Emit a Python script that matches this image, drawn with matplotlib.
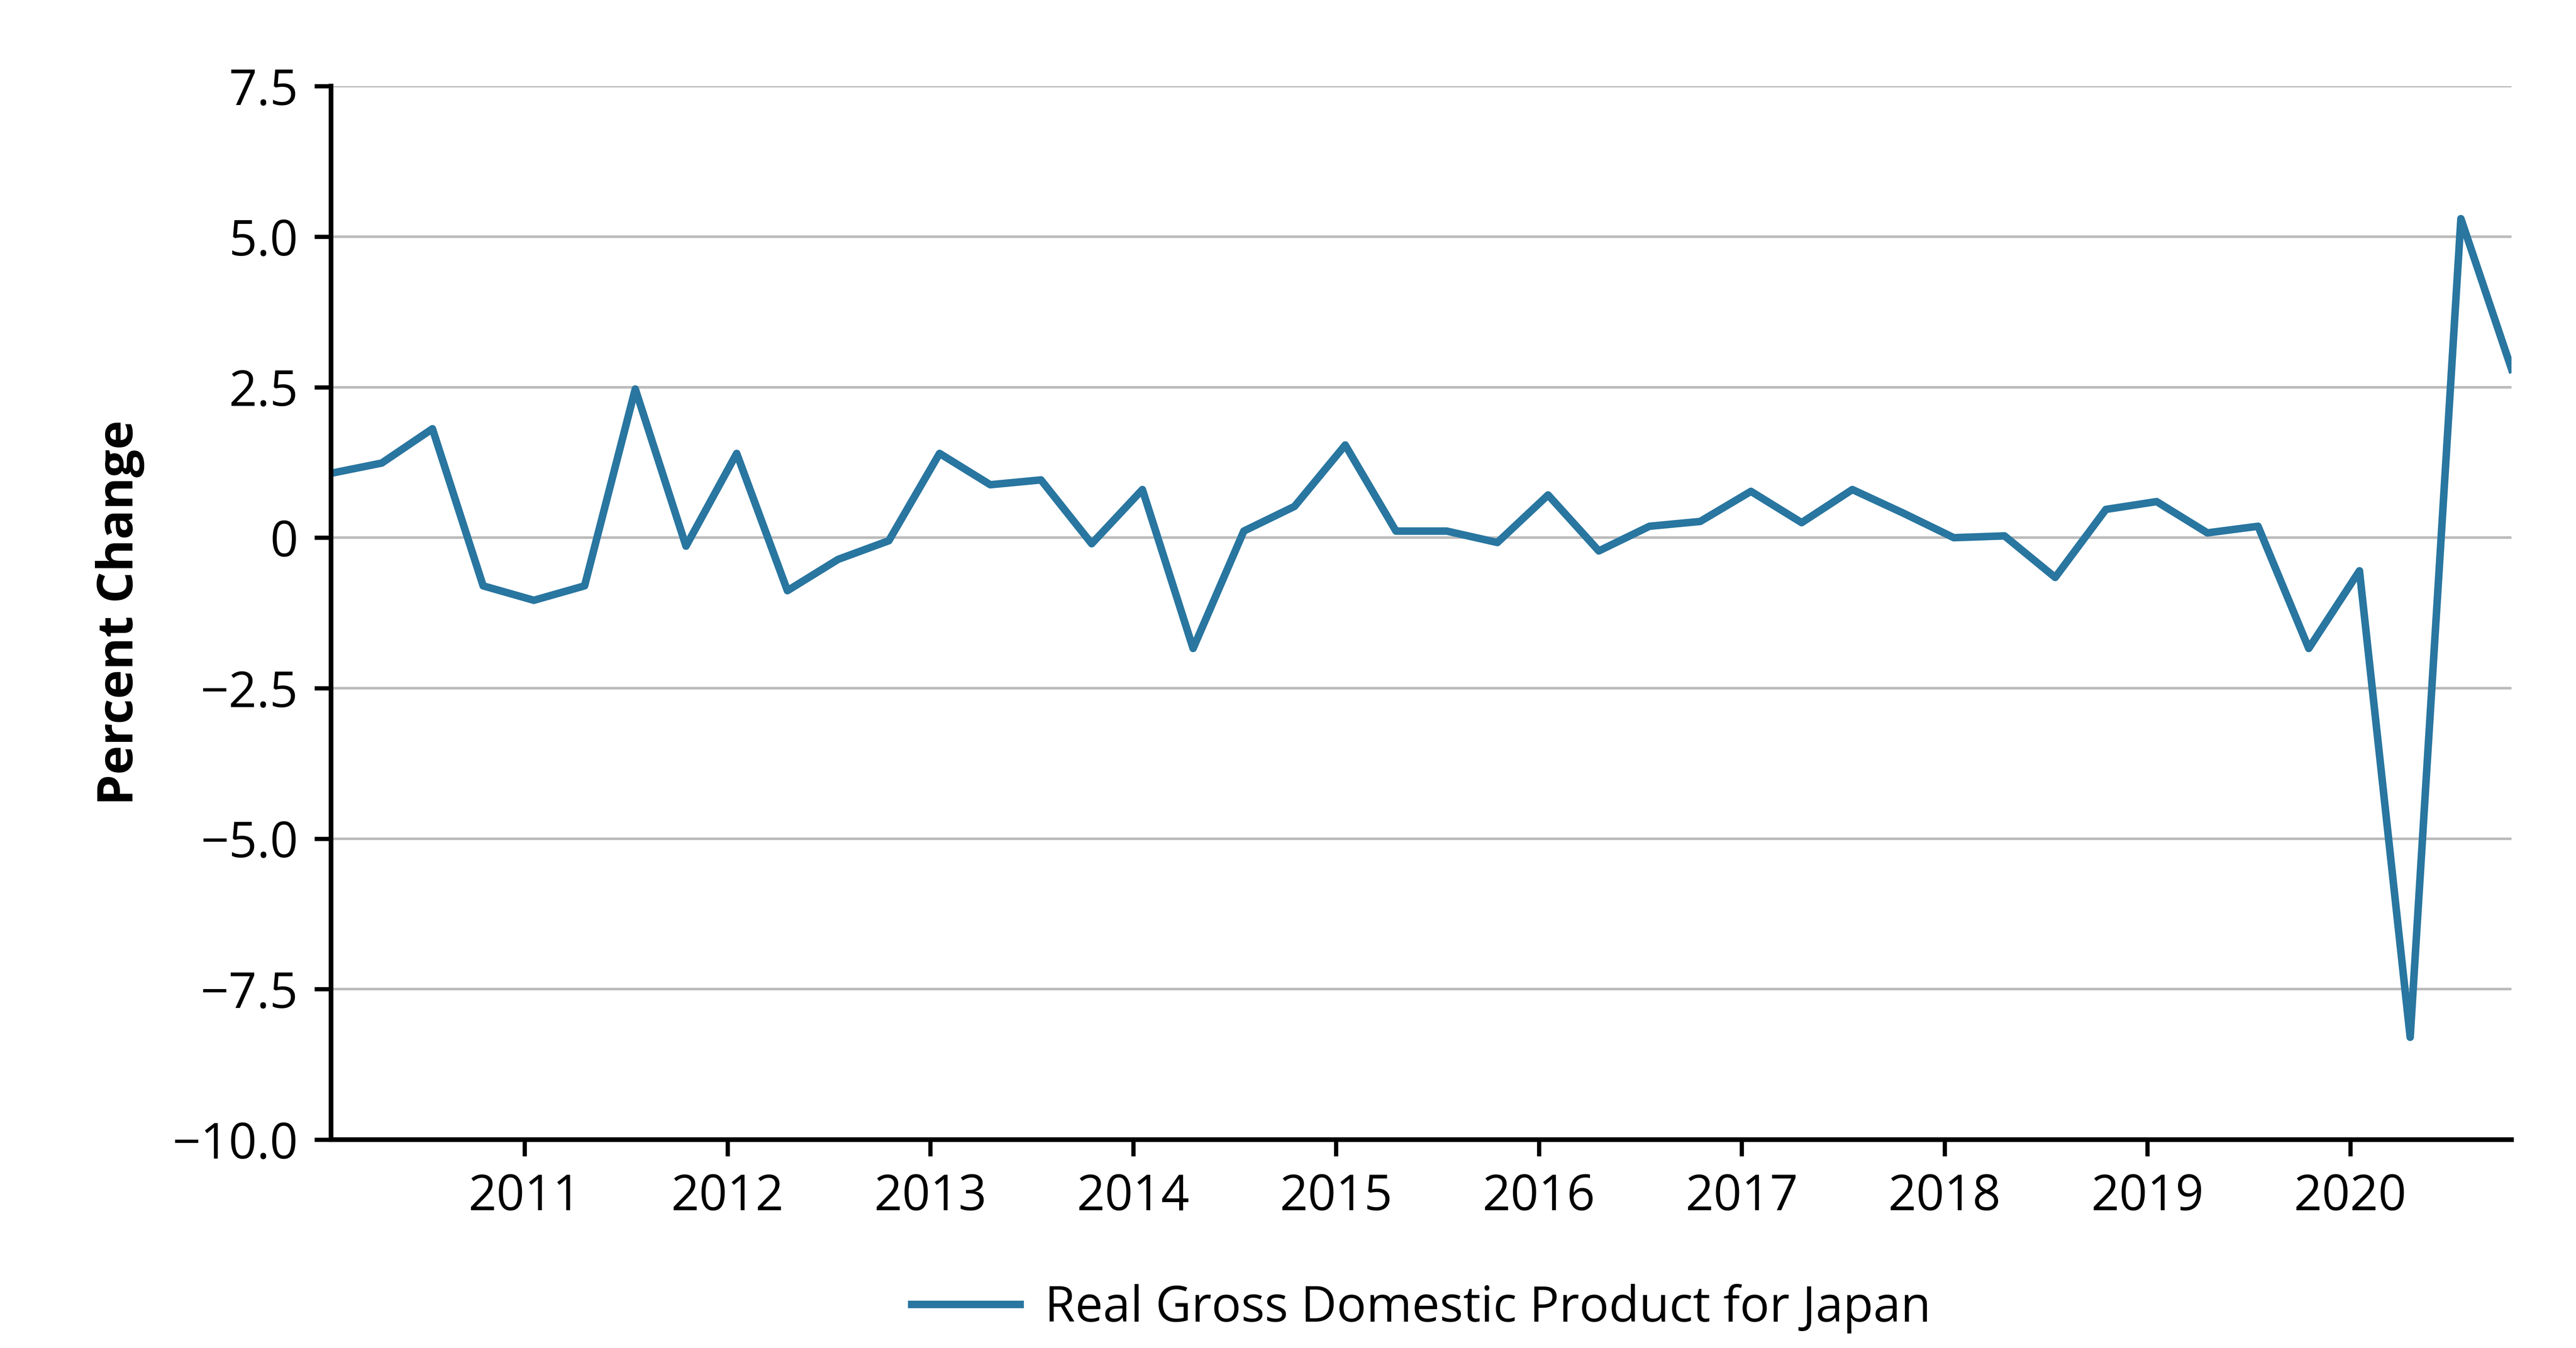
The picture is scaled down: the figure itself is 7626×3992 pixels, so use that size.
import matplotlib
matplotlib.use("Agg")
import matplotlib.pyplot as plt
import numpy as np

plt.rcParams["font.family"] = ["Open Sans", "DejaVu Sans"]

# quarterly, 2010Q1 .. 2020Q4
start_year = 2010.045
gdp = [1.07, 1.24, 1.81, -0.80,
       -1.04, -0.80, 2.47, -0.14,
       1.40, -0.88, -0.36, -0.05,
       1.40, 0.88, 0.96, -0.10,
       0.80, -1.84, 0.11, 0.52,
       1.54, 0.11, 0.11, -0.08,
       0.71, -0.22, 0.19, 0.27,
       0.77, 0.25, 0.80, 0.41,
       0.00, 0.03, -0.66, 0.47,
       0.60, 0.08, 0.19, -1.84,
       -0.55, -8.30, 5.30, 2.80]
x = start_year + np.arange(len(gdp)) / 4
yticks = [-10, -7.5, -5, -2.5, 0, 2.5, 5, 7.5]
ylabels = ["\u221210.0", "\u22127.5", "\u22125.0", "\u22122.5", "0", "2.5", "5.0", "7.5"]
years = list(range(2011, 2021))

fig = plt.figure(figsize=(15.252, 7.984), dpi=500)
ax = fig.add_axes([0.1285, 0.1546, 0.8465, 0.7814])
ax.plot(x, gdp, color="#2976a0", lw=3.2, label="Real Gross Domestic Product for Japan")
ax.set_xlim(x[0], x[-1])
ax.set_ylim(-10, 7.5)
ax.set_yticks(yticks); ax.set_yticklabels(ylabels)
ax.set_xticks(years)
ax.yaxis.grid(True, color="#bbbbbb", lw=1.1)
ax.set_axisbelow(True)
for s in ["top", "right"]:
    ax.spines[s].set_visible(False)
for s in ["left", "bottom"]:
    ax.spines[s].set_linewidth(2.0)
ax.tick_params(labelsize=21, width=1.8, length=7, pad=7)
ax.set_ylabel("Percent Change", fontsize=21, fontweight="bold", labelpad=12)
ax.legend(loc="upper center", bbox_to_anchor=(0.5, -0.095), frameon=False,
          fontsize=21, handlelength=2.2, handletextpad=0.5)
fig.savefig("out.png", dpi=500)
